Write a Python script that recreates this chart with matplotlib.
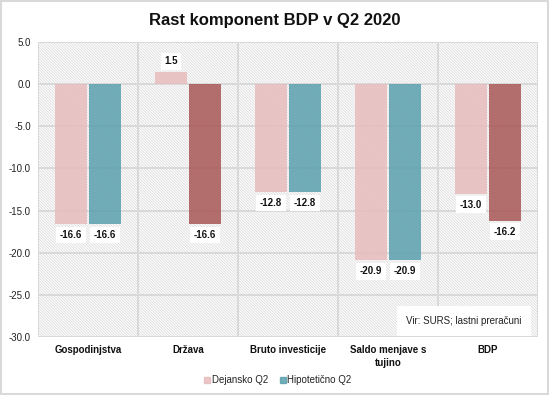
import matplotlib
matplotlib.use("Agg")
import matplotlib.pyplot as plt
import numpy as np
from matplotlib.patches import Rectangle
from matplotlib.lines import Line2D

plt.rcParams['font.family'] = ['Liberation Sans', 'DejaVu Sans']
plt.rcParams['hatch.color'] = '#dcdcdc'
plt.rcParams['hatch.linewidth'] = 0.6

categories = ["Gospodinjstva", "Država", "Bruto investicije", "Saldo menjave s\ntujino", "BDP"]
dejansko = [-16.6, 1.5, -12.8, -20.9, -13.0]
hipoteticno = [-16.6, -16.6, -12.8, -20.9, -16.2]
series_names = ["Dejansko Q2", "Hipotetično Q2"]
yticks = [5, 0, -5, -10, -15, -20, -25, -30]

c_pink = '#e8bcbc'
c_teal = '#5a9fae'
c_dark = '#a85656'
hip_colors = [c_teal, c_dark, c_teal, c_teal, c_dark]

fig = plt.figure(figsize=(5.5, 3.95), dpi=100)
fig.patch.set_facecolor('white')
fig.add_artist(Rectangle((0.002, 0.003), 0.995, 0.994, transform=fig.transFigure,
                         fill=False, edgecolor='#d9d9d9', linewidth=1.5))

ax = fig.add_axes([38/550, 1-337/395, 500/550, 295/395])
ax.set_xlim(-0.5, len(categories)-0.5)
ax.set_ylim(-30, 5)

# hatched background
ax.add_patch(Rectangle((0, 0), 1, 1, transform=ax.transAxes, facecolor='white',
                       hatch='\\' * 12, edgecolor='#dcdcdc', linewidth=0, zorder=0))

x = np.arange(len(categories))
w = 0.32
b1 = ax.bar(x - w/2 - 0.01, dejansko, w, color=c_pink, alpha=0.85, zorder=3, label=series_names[0])
b2 = ax.bar(x + w/2 + 0.01, hipoteticno, w, color=hip_colors, alpha=0.85, zorder=3, label=series_names[1])

# grid
for yv in yticks:
    ax.axhline(yv, color='#d9d9d9', lw=1.4, zorder=1)
for xv in np.arange(-0.5, len(categories), 1.0):
    ax.axvline(xv, color='#d9d9d9', lw=1.4, zorder=1)

for s in ax.spines.values():
    s.set_visible(False)

ax.set_yticks(yticks)
ax.set_yticklabels([f"{v:.1f}" for v in yticks], fontsize=7, color='#222222')
ax.set_xticks(x)
ax.set_xticklabels(categories, fontsize=7, fontweight='bold', color='#111111', linespacing=1.3)
ax.tick_params(axis='both', length=0)
ax.tick_params(axis='y', pad=5)
ax.tick_params(axis='x', pad=6)

def label(bars, vals):
    for b, v in zip(bars, vals):
        cx = b.get_x() + b.get_width()/2
        off = -11 if v < 0 else 10
        ax.annotate(f"{v:.1f}", (cx, v), xytext=(0, off), textcoords='offset pixels',
                    ha='center', va='center', fontsize=7, fontweight='bold', color='#111111', zorder=5,
                    bbox=dict(boxstyle='square,pad=0.35', facecolor='white', edgecolor='none'))

label(b1, dejansko)
label(b2, hipoteticno)

fig.text(0.5, 1-20/395, "Rast komponent BDP v Q2 2020", ha='center', va='center',
         fontsize=12, fontweight='bold', color='#111111')

ax.text(464/550, 1-321/395, "Vir: SURS; lastni preračuni", transform=fig.transFigure,
        ha='center', va='center', fontsize=7, color='#222222', zorder=6,
        bbox=dict(boxstyle='square,pad=1.0', facecolor='white', edgecolor='none'))

handles = [Line2D([], [], marker='s', linestyle='none', markersize=4.5, color=c_pink, alpha=0.85),
           Line2D([], [], marker='s', linestyle='none', markersize=4.5, color=c_teal, alpha=0.85)]
fig.legend(handles, series_names, loc='center', bbox_to_anchor=(0.505, 1-380/395), ncol=2,
           frameon=False, fontsize=7, handlelength=0.6, handletextpad=0.2, columnspacing=1.2,
           labelcolor='#222222')

fig.savefig("out.png", dpi=100)
